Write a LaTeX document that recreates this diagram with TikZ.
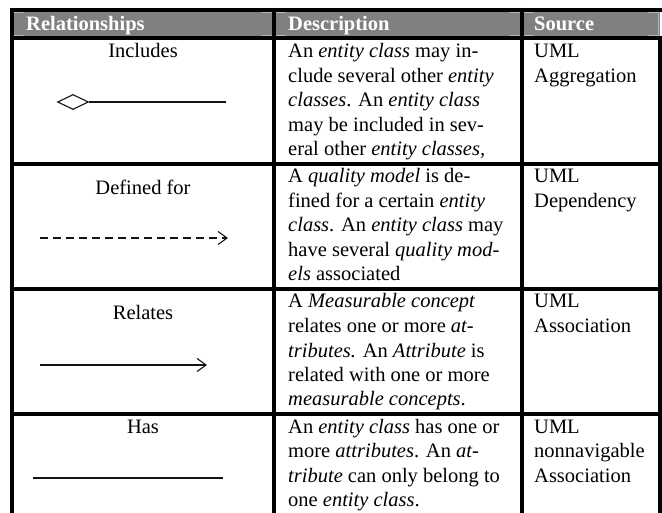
\documentclass[tikz,border=0pt]{standalone}
\usepackage{fontspec}
\setmainfont{Liberation Serif}
\usetikzlibrary{arrows.meta,shapes.geometric}
\definecolor{headgray}{HTML}{808080}
\definecolor{cornergray}{HTML}{B8B8B8}
\definecolor{ink}{HTML}{141414}
\begin{document}
\begin{tikzpicture}[x=1pt,y=-1pt,
  txt/.style={anchor=base west, inner sep=0pt, font=\fontsize{20.5}{24.5}\selectfont},
  lbl/.style={anchor=base, inner sep=0pt, font=\fontsize{20.5}{24.5}\selectfont},
  head/.style={anchor=base west, inner sep=0pt, text=white, font=\fontsize{20.5}{24.5}\selectfont\bfseries},
  gridline/.style={line width=4pt, draw=black},
  cornerline/.style={line width=0.8pt, draw=cornergray},
  glyph/.style={line width=1.1pt, draw=ink},
  opentip/.style={-{Straight Barb[length=9pt,width=13pt]}},
]
\useasboundingbox (0,0) rectangle (662,513);
\fill[white] (0,0) rectangle (662,513);

% header band
\fill[headgray] (12,12) rectangle (660,36);
\foreach \a/\b in {14/272, 276/520, 524/658} {
  \draw[cornerline] (\a,12.5) -- ++(10,0);
  \draw[cornerline] (\b,12.5) -- ++(-10,0);
  \draw[cornerline] (\a,35.5) -- ++(10,0);
  \draw[cornerline] (\b,35.5) -- ++(-10,0);
}
\draw[cornerline] (658.5,12) -- (658.5,36);

% table rules
\draw[gridline] (10,10) -- (662,10);
\draw[gridline] (10,38) -- (662,38);
\draw[gridline] (10,164) -- (662,164);
\draw[gridline] (10,289) -- (662,289);
\draw[gridline] (10,414) -- (662,414);
\draw[gridline] (12,8) -- (12,513);
\draw[gridline] (274,8) -- (274,513);
\draw[gridline] (522,8) -- (522,513);
\draw[gridline] (660,36) -- (660,513);

% header
\node[head] (hrel) at (26,31) {Relationships};
\node[head] (hdesc) at (288,31) {Description};
\node[head] (hsrc) at (534,31) {Source};

% relationship names
\node[lbl] (lincl) at (143,58) {Includes};
\node[lbl] (ldef) at (143,195) {Defined for};
\node[lbl] (lrel) at (143,320) {Relates};
\node[lbl] (lhas) at (143,433) {Has};

% Includes: aggregation diamond
\node[draw=ink, line width=1.1pt, diamond, aspect=2.1, minimum width=31pt,
      minimum height=15pt, inner sep=0pt] (dia) at (73,102) {};
\coordinate (inclEnd) at (226,102);
\draw[glyph] (dia.east) -- (inclEnd);

% Defined for: dependency
\coordinate (defStart) at (40,238);
\coordinate (defEnd) at (228,238);
\draw[glyph, dash pattern=on 7.5pt off 5.5pt, opentip] (defStart) -- (defEnd);

% Relates: association
\coordinate (relStart) at (40,365);
\coordinate (relEnd) at (207,365);
\draw[glyph, opentip] (relStart) -- (relEnd);

% Has: nonnavigable association
\coordinate (hasStart) at (33,478);
\coordinate (hasEnd) at (223,478);
\draw[glyph] (hasStart) -- (hasEnd);

% descriptions
\foreach \t [count=\i] in {
  {An \textit{entity class} may in-},
  {clude several other \textit{entity}},
  {\textit{classes}. An \textit{entity class}},
  {may be included in sev-},
  {eral other \textit{entity classes,}}}
  \node[txt] (da\i) at (288,{58+24.5*(\i-1)}) {\t};
\foreach \t [count=\i] in {
  {A \textit{quality model} is de-},
  {fined for a certain \textit{entity}},
  {\textit{class}. An \textit{entity class} may},
  {have several \textit{quality mod-}},
  {\textit{els} associated}}
  \node[txt] (db\i) at (288,{183+24.5*(\i-1)}) {\t};
\foreach \t [count=\i] in {
  {A \textit{Measurable concept}},
  {relates one or more \textit{at-}},
  {\textit{tributes.} An \textit{Attribute} is},
  {related with one or more},
  {\textit{measurable concepts}.}}
  \node[txt] (dc\i) at (288,{308+24.5*(\i-1)}) {\t};
\foreach \t [count=\i] in {
  {An \textit{entity class} has one or},
  {more \textit{attributes}. An \textit{at-}},
  {\textit{tribute} can only belong to},
  {one \textit{entity class}.}}
  \node[txt] (dd\i) at (288,{433+24.5*(\i-1)}) {\t};

% sources
\node[txt] (sa1) at (534,58) {UML};
\node[txt] (sa2) at (534,82.5) {Aggregation};
\node[txt] (sb1) at (534,183) {UML};
\node[txt] (sb2) at (534,207.5) {Dependency};
\node[txt] (sc1) at (534,308) {UML};
\node[txt] (sc2) at (534,332.5) {Association};
\node[txt] (sd1) at (534,433) {UML};
\node[txt] (sd2) at (534,457.5) {nonnavigable};
\node[txt] (sd3) at (534,482) {Association};
\end{tikzpicture}
\end{document}
